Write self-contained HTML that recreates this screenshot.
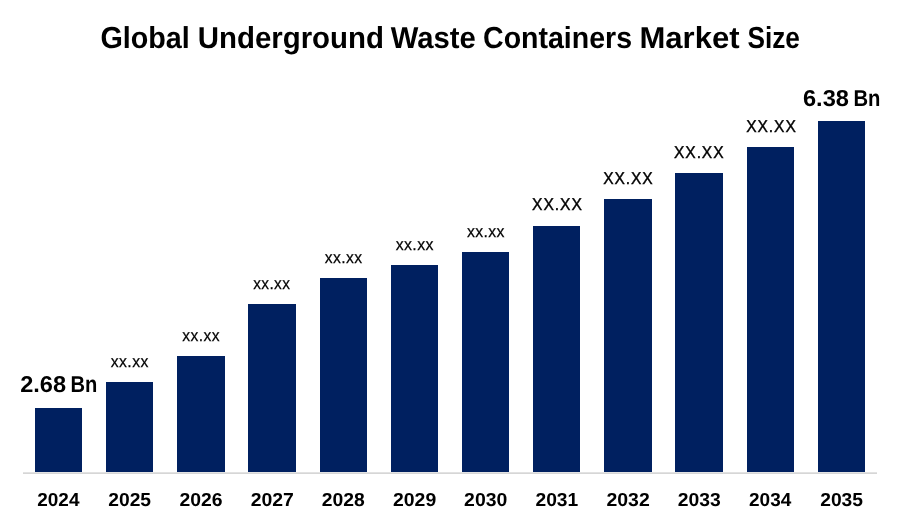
<!DOCTYPE html>
<html><head><meta charset="utf-8"><title>Global Underground Waste Containers Market Size</title>
<style>
html,body{margin:0;padding:0;background:#fff;width:900px;height:525px;overflow:hidden}
svg{display:block;will-change:transform}
text{font-family:"Liberation Sans",sans-serif;fill:#000;text-rendering:geometricPrecision}
</style></head><body>
<svg width="900" height="525" viewBox="0 0 900 525">
<rect x="0" y="0" width="900" height="525" fill="#fff"/>
<rect x="35" y="408" width="47" height="64" fill="#002060"/>
<rect x="106" y="382" width="47" height="90" fill="#002060"/>
<rect x="177" y="356" width="48" height="116" fill="#002060"/>
<rect x="248" y="304" width="48" height="168" fill="#002060"/>
<rect x="320" y="278" width="47" height="194" fill="#002060"/>
<rect x="391" y="265" width="47" height="207" fill="#002060"/>
<rect x="462" y="252" width="47" height="220" fill="#002060"/>
<rect x="533" y="226" width="47" height="246" fill="#002060"/>
<rect x="604" y="199" width="48" height="273" fill="#002060"/>
<rect x="675" y="173" width="48" height="299" fill="#002060"/>
<rect x="747" y="147" width="47" height="325" fill="#002060"/>
<rect x="818" y="121" width="47" height="351" fill="#002060"/>
<rect x="23" y="472" width="854" height="1" fill="#e2e2e2"/>
<rect x="23" y="473" width="854" height="1" fill="#d6d6d6"/>
<text x="145.09" y="48.00" font-size="30.30" font-weight="bold" textLength="89.37" lengthAdjust="spacingAndGlyphs" text-anchor="middle">Global</text>
<text x="290.85" y="48.00" font-size="30.30" font-weight="bold" textLength="186.25" lengthAdjust="spacingAndGlyphs" text-anchor="middle">Underground</text>
<text x="433.20" y="48.00" font-size="30.30" font-weight="bold" textLength="85.07" lengthAdjust="spacingAndGlyphs" text-anchor="middle">Waste</text>
<text x="557.55" y="48.00" font-size="30.30" font-weight="bold" textLength="148.92" lengthAdjust="spacingAndGlyphs" text-anchor="middle">Containers</text>
<text x="689.51" y="48.00" font-size="30.30" font-weight="bold" textLength="100.16" lengthAdjust="spacingAndGlyphs" text-anchor="middle">Market</text>
<text x="773.63" y="48.00" font-size="30.30" font-weight="bold" textLength="52.43" lengthAdjust="spacingAndGlyphs" text-anchor="middle">Size</text>
<text x="58.35" y="506.00" font-size="18.78" font-weight="bold" textLength="42.20" lengthAdjust="spacingAndGlyphs" text-anchor="middle">2024</text>
<text x="129.69" y="506.00" font-size="18.78" font-weight="bold" textLength="42.77" lengthAdjust="spacingAndGlyphs" text-anchor="middle">2025</text>
<text x="201.07" y="506.00" font-size="18.78" font-weight="bold" textLength="43.07" lengthAdjust="spacingAndGlyphs" text-anchor="middle">2026</text>
<text x="272.28" y="506.00" font-size="18.78" font-weight="bold" textLength="43.19" lengthAdjust="spacingAndGlyphs" text-anchor="middle">2027</text>
<text x="343.27" y="506.00" font-size="18.78" font-weight="bold" textLength="43.03" lengthAdjust="spacingAndGlyphs" text-anchor="middle">2028</text>
<text x="414.60" y="506.00" font-size="18.78" font-weight="bold" textLength="43.18" lengthAdjust="spacingAndGlyphs" text-anchor="middle">2029</text>
<text x="485.73" y="506.00" font-size="18.78" font-weight="bold" textLength="43.18" lengthAdjust="spacingAndGlyphs" text-anchor="middle">2030</text>
<text x="556.84" y="506.00" font-size="18.78" font-weight="bold" textLength="42.77" lengthAdjust="spacingAndGlyphs" text-anchor="middle">2031</text>
<text x="628.11" y="506.00" font-size="18.78" font-weight="bold" textLength="43.25" lengthAdjust="spacingAndGlyphs" text-anchor="middle">2032</text>
<text x="699.24" y="506.00" font-size="18.78" font-weight="bold" textLength="43.03" lengthAdjust="spacingAndGlyphs" text-anchor="middle">2033</text>
<text x="770.15" y="506.00" font-size="18.78" font-weight="bold" textLength="42.24" lengthAdjust="spacingAndGlyphs" text-anchor="middle">2034</text>
<text x="841.63" y="506.00" font-size="18.78" font-weight="bold" textLength="42.78" lengthAdjust="spacingAndGlyphs" text-anchor="middle">2035</text>
<text x="43.08" y="392.00" font-size="22.90" font-weight="bold" textLength="45.85" lengthAdjust="spacingAndGlyphs" text-anchor="middle">2.68</text>
<text x="83.84" y="392.00" font-size="23.01" font-weight="bold" textLength="26.85" lengthAdjust="spacingAndGlyphs" text-anchor="middle">Bn</text>
<text x="825.97" y="106.00" font-size="22.99" font-weight="bold" textLength="45.95" lengthAdjust="spacingAndGlyphs" text-anchor="middle">6.38</text>
<text x="866.95" y="106.00" font-size="23.01" font-weight="bold" textLength="27.00" lengthAdjust="spacingAndGlyphs" text-anchor="middle">Bn</text>
<text x="129.75" y="367.00" font-size="16.64" stroke="#000" stroke-width="0.25" letter-spacing="0.4" textLength="37.84" lengthAdjust="spacingAndGlyphs" text-anchor="middle">xx.xx</text>
<text x="201.10" y="341.00" font-size="16.64" stroke="#000" stroke-width="0.25" letter-spacing="0.4" textLength="37.57" lengthAdjust="spacingAndGlyphs" text-anchor="middle">xx.xx</text>
<text x="271.74" y="289.00" font-size="16.64" stroke="#000" stroke-width="0.25" letter-spacing="0.4" textLength="37.19" lengthAdjust="spacingAndGlyphs" text-anchor="middle">xx.xx</text>
<text x="343.64" y="263.00" font-size="16.64" stroke="#000" stroke-width="0.25" letter-spacing="0.4" textLength="37.74" lengthAdjust="spacingAndGlyphs" text-anchor="middle">xx.xx</text>
<text x="414.76" y="250.00" font-size="16.64" stroke="#000" stroke-width="0.25" letter-spacing="0.4" textLength="38.13" lengthAdjust="spacingAndGlyphs" text-anchor="middle">xx.xx</text>
<text x="485.94" y="237.00" font-size="16.64" stroke="#000" stroke-width="0.25" letter-spacing="0.4" textLength="37.95" lengthAdjust="spacingAndGlyphs" text-anchor="middle">xx.xx</text>
<text x="557.45" y="210.00" font-size="17.03" stroke="#000" stroke-width="0.4" letter-spacing="1.0" textLength="50.70" lengthAdjust="spacingAndGlyphs" text-anchor="middle">XX.XX</text>
<text x="628.42" y="184.00" font-size="17.03" stroke="#000" stroke-width="0.4" letter-spacing="1.0" textLength="50.42" lengthAdjust="spacingAndGlyphs" text-anchor="middle">XX.XX</text>
<text x="699.26" y="158.00" font-size="17.03" stroke="#000" stroke-width="0.4" letter-spacing="1.0" textLength="50.44" lengthAdjust="spacingAndGlyphs" text-anchor="middle">XX.XX</text>
<text x="771.47" y="132.00" font-size="17.03" stroke="#000" stroke-width="0.4" letter-spacing="1.0" textLength="50.52" lengthAdjust="spacingAndGlyphs" text-anchor="middle">XX.XX</text>
</svg>
</body></html>
